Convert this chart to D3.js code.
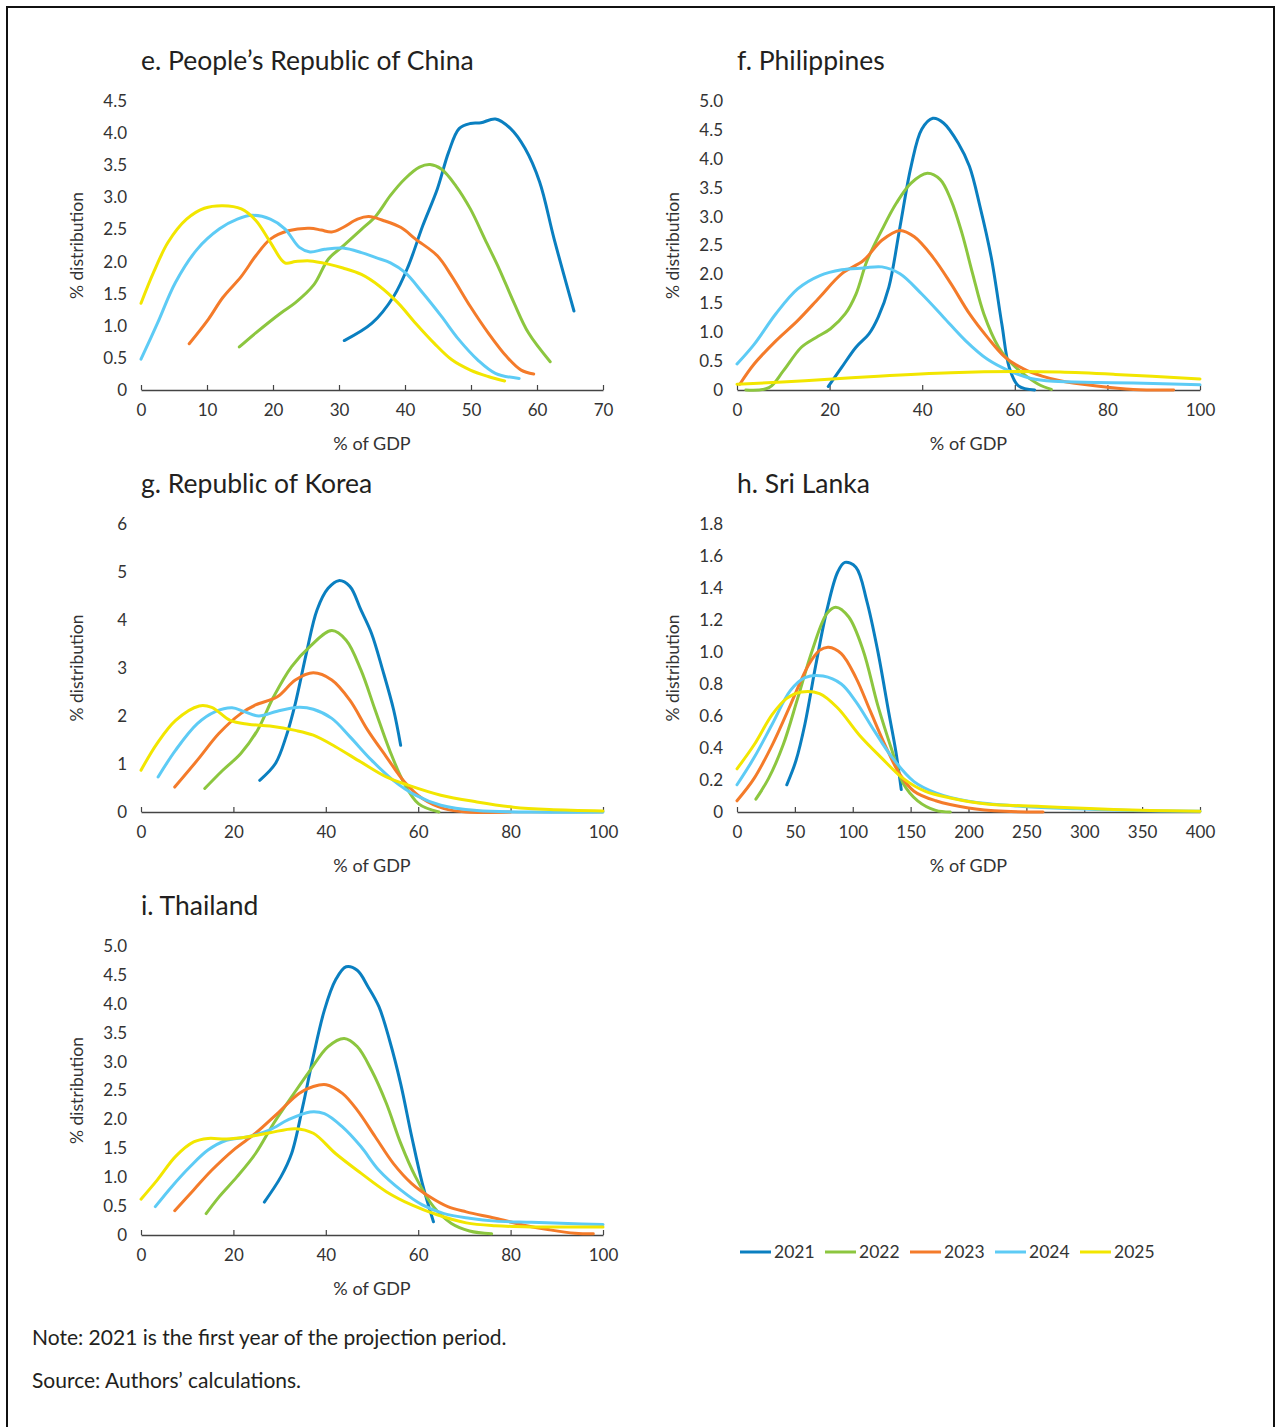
<!DOCTYPE html>
<html>
<head>
<meta charset="utf-8">
<script src="https://cdn.jsdelivr.net/npm/d3@7"></script>
<style>
  body { margin: 0; background: #fff; }
  svg { display: block; font-family: Lato, "Open Sans", sans-serif; }
</style>
</head>
<body>
<svg id="chart" width="1276" height="1427"></svg>
<script>
// series names + colours
const years = ['2021', '2022', '2023', '2024', '2025']
const colors = ['#0a7fc0', '#8cc63f', '#f47b2a', '#5dcbf5', '#f2e600']

// e. PRC  [x % of GDP, y % distribution]
const prc2021 = [[30.8,0.77],[35,1.04],[38.3,1.46],[40.5,1.93],[42.7,2.56],[44.9,3.13],[46.6,3.7],[48.2,4.07],[49.9,4.15],[51.5,4.16],[53.7,4.22],[56,4.07],[58.2,3.76],[60.4,3.24],[62.6,2.35],[65.6,1.23]]
const prc2022 = [[14.9,0.67],[17.4,0.89],[21.2,1.2],[23.4,1.36],[26.2,1.64],[28.4,2.04],[30.6,2.24],[33.4,2.5],[35.6,2.71],[37.8,3.03],[40,3.29],[42.2,3.47],[43.8,3.51],[45.5,3.44],[47.7,3.18],[49.9,2.82],[52.1,2.35],[54.3,1.88],[56.5,1.36],[58.7,0.89],[62,0.44]]
const prc2023 = [[7.3,0.72],[10.2,1.1],[12.4,1.44],[15.2,1.77],[17.4,2.09],[19.6,2.35],[22.3,2.48],[25.6,2.52],[27.3,2.49],[28.9,2.46],[30.6,2.53],[32.8,2.66],[34.5,2.7],[36.7,2.64],[39.4,2.53],[41.6,2.35],[44.9,2.09],[47.1,1.77],[49.9,1.3],[52.6,0.89],[55.4,0.52],[57.6,0.31],[59.5,0.25]]
const prc2024 = [[0,0.48],[2.5,1.04],[5.2,1.67],[8.5,2.19],[11.9,2.51],[14.6,2.66],[16.8,2.72],[19.6,2.66],[21.8,2.51],[24,2.22],[25.6,2.15],[27.8,2.19],[30.6,2.21],[33.4,2.14],[35.6,2.06],[37.8,1.98],[40,1.83],[42.7,1.51],[45.5,1.15],[48.2,0.78],[51,0.47],[53.7,0.26],[57.3,0.18]]
const prc2025 = [[0,1.35],[1.9,1.83],[4.1,2.3],[6.9,2.66],[9.6,2.83],[12.4,2.87],[15.2,2.82],[17.4,2.64],[19.6,2.3],[21.8,1.98],[23.4,2.0],[25.6,2.01],[28.4,1.96],[30.6,1.9],[33.4,1.8],[36.1,1.62],[38.9,1.36],[41.6,1.04],[44.4,0.73],[47.1,0.47],[49.9,0.31],[52.6,0.21],[55.1,0.14]]

// f. Philippines
const phi2021 = [[19.7,0.06],[22.6,0.39],[25.7,0.74],[28.5,0.97],[30.5,1.26],[32.8,1.78],[35.2,2.82],[37.6,3.87],[39.9,4.51],[42.3,4.7],[44.6,4.62],[47.8,4.27],[50.2,3.87],[52.5,3.17],[54.9,2.3],[57.2,1.14],[58.8,0.39],[60.8,0.07],[64.3,0]]
const phi2022 = [[1.9,0],[6.9,0.04],[10,0.33],[13.9,0.74],[17.1,0.91],[20.2,1.06],[23.4,1.32],[25.7,1.66],[28.1,2.24],[31.3,2.77],[34.4,3.23],[37.6,3.58],[41.1,3.75],[43.9,3.64],[46.2,3.29],[48.6,2.71],[50.9,2.01],[53.3,1.32],[56.5,0.74],[58.8,0.5],[62,0.27],[65.1,0.1],[67.9,0.01]]
const phi2023 = [[0.6,0.1],[3.7,0.45],[8.4,0.85],[13.1,1.2],[17.9,1.61],[22.6,2.01],[27.3,2.24],[31.3,2.59],[35.2,2.76],[38.3,2.65],[42.3,2.3],[46.2,1.84],[50.2,1.32],[54.1,0.91],[58,0.56],[62,0.36],[65.9,0.24],[69.8,0.16],[77.7,0.07],[85.6,0.01],[94.3,0]]
const phi2024 = [[0,0.45],[3.7,0.79],[8.4,1.32],[13.1,1.75],[17.9,1.98],[22.6,2.08],[27.3,2.11],[31.3,2.13],[35.2,2.01],[39.9,1.66],[44.6,1.26],[49.4,0.85],[54.1,0.53],[58.8,0.33],[63.5,0.2],[68.3,0.15],[77.7,0.13],[85.6,0.12],[100,0.09]]
const phi2025 = [[0,0.1],[14.7,0.16],[30.5,0.24],[46.2,0.3],[60.4,0.32],[69.8,0.31],[81.7,0.27],[100,0.19]]

// g. Republic of Korea
const kor2021 = [[25.7,0.66],[29.1,1.01],[31.4,1.57],[33.4,2.26],[35.8,3.31],[38.1,4.21],[40.5,4.66],[42.8,4.82],[45.2,4.7],[47.6,4.21],[49.9,3.72],[52.3,2.96],[54.7,2.12],[56.2,1.39]]
const kor2022 = [[13.8,0.49],[17.7,0.87],[21.6,1.22],[25.2,1.7],[28.7,2.4],[32.6,3.03],[36.5,3.44],[41.3,3.78],[44.4,3.58],[47.6,2.96],[50.7,2.12],[53.8,1.29],[57,0.59],[60.1,0.17],[64.5,0]]
const kor2023 = [[7.3,0.52],[12.2,1.08],[16.9,1.64],[21.6,2.05],[24.8,2.23],[29.5,2.4],[33.4,2.75],[37.3,2.9],[41.3,2.75],[45.2,2.33],[49.1,1.7],[53.1,1.15],[57,0.63],[60.9,0.28],[65.6,0.07],[70.4,0],[80,0]]
const kor2024 = [[3.7,0.73],[7.5,1.29],[12.2,1.84],[16.1,2.09],[19.7,2.17],[22.4,2.09],[25.5,2.0],[29.5,2.1],[34.2,2.18],[37.3,2.14],[41.3,1.95],[45.2,1.57],[49.9,1.08],[54.6,0.66],[59.4,0.35],[64.9,0.14],[72.7,0.03],[84.5,0],[100,0]]
const kor2025 = [[0,0.87],[3.5,1.43],[7.5,1.91],[12.6,2.21],[15.3,2.18],[19.3,1.91],[23.2,1.83],[27.9,1.79],[33.4,1.7],[37.3,1.6],[42.1,1.36],[47.6,1.04],[53.1,0.73],[57.8,0.56],[64.9,0.35],[72.7,0.21],[80.6,0.1],[88.4,0.05],[100,0.02]]

// h. Sri Lanka
const sri2021 = [[43,0.17],[50.9,0.32],[58.7,0.55],[68.1,0.92],[77.6,1.26],[87,1.5],[93.2,1.56],[102.7,1.53],[112.1,1.32],[121.5,1.01],[130.9,0.63],[137.2,0.38],[141.9,0.14]]
const sri2022 = [[16.3,0.08],[27.3,0.21],[39.9,0.42],[52.4,0.71],[65,1.01],[77.6,1.24],[85.4,1.28],[96.4,1.22],[109,1.01],[121.5,0.67],[134.1,0.38],[143.5,0.18],[156.1,0.07],[171.7,0.01],[184.3,0]]
const sri2023 = [[0,0.07],[14.8,0.21],[30.5,0.42],[46.2,0.67],[61.9,0.92],[71.3,1.01],[79.1,1.03],[90.1,0.99],[102.7,0.84],[115.2,0.63],[127.8,0.42],[140.3,0.24],[152.9,0.13],[171.7,0.07],[200,0.025],[231.4,0.004],[264.4,0]]
const sri2024 = [[0,0.17],[14.8,0.34],[30.5,0.55],[46.2,0.76],[58.7,0.84],[74.4,0.85],[90.1,0.8],[102.7,0.69],[118.4,0.51],[134.1,0.34],[152.9,0.19],[171.7,0.12],[200,0.067],[247.1,0.035],[294.2,0.02],[341.3,0.01],[400,0.004]]
const sri2025 = [[0,0.27],[14.8,0.42],[30.5,0.61],[43,0.71],[55.6,0.75],[71.3,0.74],[87,0.65],[105.8,0.48],[124.6,0.34],[143.5,0.21],[162.3,0.13],[184.3,0.088],[215.7,0.05],[262.8,0.035],[309.9,0.02],[357,0.01],[400,0.004]]

// i. Thailand
const tha2021 = [[26.7,0.57],[30.3,1.01],[32.6,1.41],[35,2.22],[37.3,3.09],[39.7,3.89],[42.1,4.41],[44.4,4.64],[46.8,4.58],[49.1,4.3],[51.5,3.95],[53.8,3.37],[56.2,2.62],[58.6,1.7],[60.9,0.89],[63.3,0.23]]
const tha2022 = [[14.1,0.37],[16.9,0.66],[20.8,1.01],[24.8,1.41],[28.7,1.93],[32.6,2.39],[36.6,2.85],[40.5,3.26],[44,3.4],[46.8,3.26],[49.9,2.85],[53.1,2.28],[56.2,1.59],[59.4,1.01],[63.3,0.49],[67.2,0.2],[71.1,0.07],[75.9,0.02]]
const tha2023 = [[7.3,0.42],[11.4,0.78],[15.3,1.12],[20,1.47],[24.8,1.76],[29.5,2.1],[34.2,2.45],[37.3,2.57],[40.1,2.6],[43.6,2.45],[46.8,2.16],[50.7,1.7],[54.6,1.24],[58.6,0.89],[62.5,0.66],[66.4,0.49],[70.4,0.4],[76.7,0.29],[82.9,0.17],[88.4,0.09],[93.9,0.03],[97.9,0.02]]
const tha2024 = [[3.1,0.49],[6.7,0.84],[10.6,1.18],[14.5,1.47],[18.5,1.64],[23.2,1.7],[27.9,1.82],[31.8,1.99],[36.6,2.13],[39.7,2.1],[43.6,1.87],[47.6,1.53],[51.5,1.12],[56.2,0.78],[60.9,0.52],[65.6,0.37],[71.1,0.29],[76.7,0.24],[84.5,0.22],[92.4,0.2],[100,0.18]]
const tha2025 = [[0,0.62],[3.5,0.95],[7.5,1.36],[11.4,1.61],[14.5,1.67],[18.5,1.66],[23.2,1.7],[27.9,1.77],[33.4,1.84],[37.3,1.76],[42.1,1.41],[47.6,1.07],[53.1,0.75],[58.6,0.52],[64.1,0.35],[70.4,0.21],[76.7,0.16],[84.5,0.14],[92.4,0.14],[100,0.14]]

// axis ticks
const prcXTicks = [0, 10, 20, 30, 40, 50, 60, 70]
const prcYTicks = [0, 0.5, 1, 1.5, 2, 2.5, 3, 3.5, 4, 4.5]
const phiXTicks = [0, 20, 40, 60, 80, 100]
const phiYTicks = [0, 0.5, 1, 1.5, 2, 2.5, 3, 3.5, 4, 4.5, 5]
const korXTicks = [0, 20, 40, 60, 80, 100]
const korYTicks = [0, 1, 2, 3, 4, 5, 6]
const sriXTicks = [0, 50, 100, 150, 200, 250, 300, 350, 400]
const sriYTicks = [0, 0.2, 0.4, 0.6, 0.8, 1.0, 1.2, 1.4, 1.6, 1.8]
const thaXTicks = [0, 20, 40, 60, 80, 100]
const thaYTicks = [0, 0.5, 1, 1.5, 2, 2.5, 3, 3.5, 4, 4.5, 5]

let panels = [
  { title: 'e. People\u2019s Republic of China', left: 141, right: 603, top: 101, bottom: 390,
    xTicks: prcXTicks, yTicks: prcYTicks, fmt: d => d === 0 ? '0' : d.toFixed(1),
    series: [prc2021, prc2022, prc2023, prc2024, prc2025] },
  { title: 'f. Philippines', left: 737, right: 1200, top: 101, bottom: 390,
    xTicks: phiXTicks, yTicks: phiYTicks, fmt: d => d === 0 ? '0' : d.toFixed(1),
    series: [phi2021, phi2022, phi2023, phi2024, phi2025] },
  { title: 'g. Republic of Korea', left: 141, right: 603, top: 524, bottom: 812,
    xTicks: korXTicks, yTicks: korYTicks, fmt: d => String(d),
    series: [kor2021, kor2022, kor2023, kor2024, kor2025] },
  { title: 'h. Sri Lanka', left: 737, right: 1200, top: 524, bottom: 812,
    xTicks: sriXTicks, yTicks: sriYTicks, fmt: d => d === 0 ? '0' : d.toFixed(1),
    series: [sri2021, sri2022, sri2023, sri2024, sri2025] },
  { title: 'i. Thailand', left: 141, right: 603, top: 946, bottom: 1235,
    xTicks: thaXTicks, yTicks: thaYTicks, fmt: d => d === 0 ? '0' : d.toFixed(1),
    series: [tha2021, tha2022, tha2023, tha2024, tha2025] }
]

let svg = d3.select('#chart')

// frame
svg.append('rect')
  .attr('x', 7).attr('y', 7)
  .attr('width', 1267).attr('height', 1430)
  .attr('fill', 'none')
  .attr('stroke', '#111')
  .attr('stroke-width', 2)

let drawPanel = (p) => {
  let x = d3.scaleLinear()
    .domain([p.xTicks[0], p.xTicks[p.xTicks.length - 1]])
    .range([p.left, p.right])
  let y = d3.scaleLinear()
    .domain([0, p.yTicks[p.yTicks.length - 1]])
    .range([p.bottom, p.top])

  let g = svg.append('g')

  g.append('text')
    .attr('x', p.left)
    .attr('y', p.top - 31)
    .attr('font-size', 26.5)
    .attr('fill', '#231f20')
    .text(p.title)

  // x axis, ticks pointing up
  let xAxis = g.append('g')
    .attr('transform', 'translate(0,' + p.bottom + ')')
    .call(d3.axisBottom(x).tickValues(p.xTicks).tickSizeInner(-5).tickSizeOuter(0).tickPadding(14))
  xAxis.select('.domain').attr('stroke', '#444').attr('stroke-width', 1.5)
  xAxis.selectAll('.tick line').attr('stroke', '#444').attr('stroke-width', 1.2)
  xAxis.selectAll('.tick text')
    .attr('font-size', 17).attr('fill', '#333')
    .attr('font-family', 'Lato, sans-serif')

  // y axis labels only
  let yAxis = g.append('g')
    .attr('transform', 'translate(' + (p.left - 14) + ',0)')
    .call(d3.axisLeft(y).tickValues(p.yTicks).tickFormat(p.fmt).tickSize(0).tickPadding(0))
  yAxis.select('.domain').remove()
  yAxis.selectAll('.tick text')
    .attr('font-size', 17).attr('fill', '#333')
    .attr('font-family', 'Lato, sans-serif')

  g.append('text')
    .attr('text-anchor', 'middle')
    .attr('transform', 'translate(' + (p.left - 58) + ',' + ((p.top + p.bottom) / 2) + ')rotate(-90)')
    .attr('font-size', 17.5)
    .attr('fill', '#333')
    .text('% distribution')

  g.append('text')
    .attr('text-anchor', 'middle')
    .attr('x', (p.left + p.right) / 2)
    .attr('y', p.bottom + 60)
    .attr('font-size', 18)
    .attr('fill', '#333')
    .text('% of GDP')

  let line = d3.line()
    .x(d => x(d[0]))
    .y(d => y(d[1]))
    .curve(d3.curveCatmullRom.alpha(0.5))

  g.selectAll('path.series')
    .data(p.series)
    .enter().append('path')
    .attr('class', 'series')
    .attr('d', d => line(d))
    .attr('fill', 'none')
    .attr('stroke', (d, i) => colors[i])
    .attr('stroke-width', 3)
    .attr('stroke-linecap', 'round')
}

panels.forEach(drawPanel)

// legend
let legend = svg.append('g').attr('transform', 'translate(740,1252)')
let item = legend.selectAll('g')
  .data(years)
  .enter().append('g')
  .attr('transform', (d, i) => 'translate(' + (i * 85) + ',0)')
item.append('line')
  .attr('x1', 0).attr('x2', 31)
  .attr('stroke', (d, i) => colors[i])
  .attr('stroke-width', 3)
item.append('text')
  .attr('x', 34).attr('y', 6)
  .attr('font-size', 17.5).attr('fill', '#333')
  .text(d => d)

// notes
svg.append('text')
  .attr('x', 32).attr('y', 1345)
  .attr('font-size', 21).attr('fill', '#231f20')
  .text('Note: 2021 is the first year of the projection period.')
svg.append('text')
  .attr('x', 32).attr('y', 1388)
  .attr('font-size', 21).attr('fill', '#231f20')
  .text('Source: Authors\u2019 calculations.')
</script>
</body>
</html>
